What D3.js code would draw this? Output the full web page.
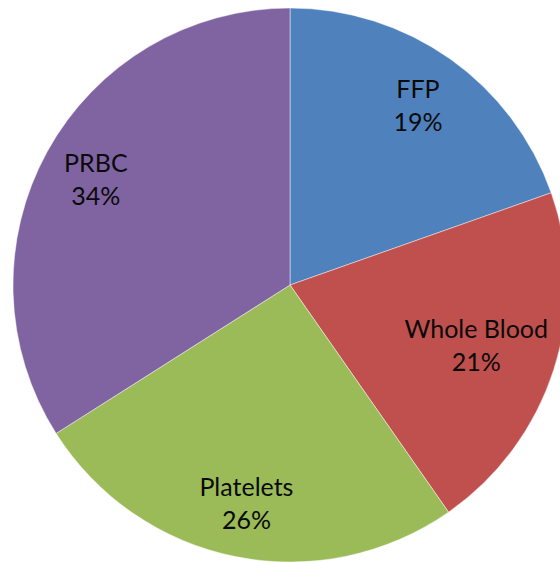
<!DOCTYPE html>
<html>
<head>
<meta charset="utf-8">
<script src="https://cdn.jsdelivr.net/npm/d3@7"></script>
<style>
  html, body { margin: 0; padding: 0; background: #fff; }
  svg { display: block; }
</style>
</head>
<body>
<div id="chart"></div>
<script>
// Data
const categories = ["FFP", "Whole Blood", "Platelets", "PRBC"];
const values = [19.6, 20.7, 25.7, 34.0];
const percentLabels = ["19%", "21%", "26%", "34%"];
const colors = ["#4F81BD", "#C0504D", "#9BBB59", "#8064A2"];

const W = 560, H = 562;
const cx = 290, cy = 285, R = 277;

const svg = d3.select("#chart").append("svg")
  .attr("width", W).attr("height", H);

const g = svg.append("g").attr("transform", `translate(${cx},${cy})`);

const pie = d3.pie().sort(null).value(d => d.value);
const data = categories.map((c, i) => ({ name: c, value: values[i], pct: percentLabels[i], color: colors[i] }));
const arcs = pie(data);

const arc = d3.arc().innerRadius(0).outerRadius(R);

g.selectAll("path.slice").data(arcs).enter().append("path")
  .attr("class", "slice")
  .attr("d", arc)
  .attr("fill", d => d.data.color)
  .attr("stroke", "rgba(255,255,255,0.45)")
  .attr("stroke-width", 1);

const fontSize = 25;
const lineH = 33;

const labels = g.selectAll("g.lab").data(arcs).enter().append("g").attr("class", "lab");

labels.each(function(d) {
  const sel = d3.select(this);
  const t = sel.append("text")
    .attr("text-anchor", "middle")
    .attr("font-family", "Lato, 'Noto Sans', sans-serif")
    .attr("font-size", fontSize)
    .attr("fill", "#0a0a0a");
  t.append("tspan").attr("x", 0).attr("dy", 0).text(d.data.name);
  t.append("tspan").attr("x", 0).attr("dy", lineH).text(d.data.pct);
  const bb = t.node().getBBox();
  const offY = -(bb.y + bb.height / 2);
  t.attr("transform", `translate(0,${offY})`);
  const w = bb.width, h = bb.height;
  const mid = (d.startAngle + d.endAngle) / 2;
  const margin = 3;
  let r = 0.8 * R;
  for (; r > 0; r -= 2) {
    const x = r * Math.sin(mid), y = -r * Math.cos(mid);
    const corners = [[x - w/2, y - h/2], [x + w/2, y - h/2], [x - w/2, y + h/2], [x + w/2, y + h/2]];
    if (corners.every(([a, b]) => Math.hypot(a, b) <= R - margin)) break;
  }
  sel.attr("transform", `translate(${r * Math.sin(mid)},${-r * Math.cos(mid)})`);
});
</script>
</body>
</html>
